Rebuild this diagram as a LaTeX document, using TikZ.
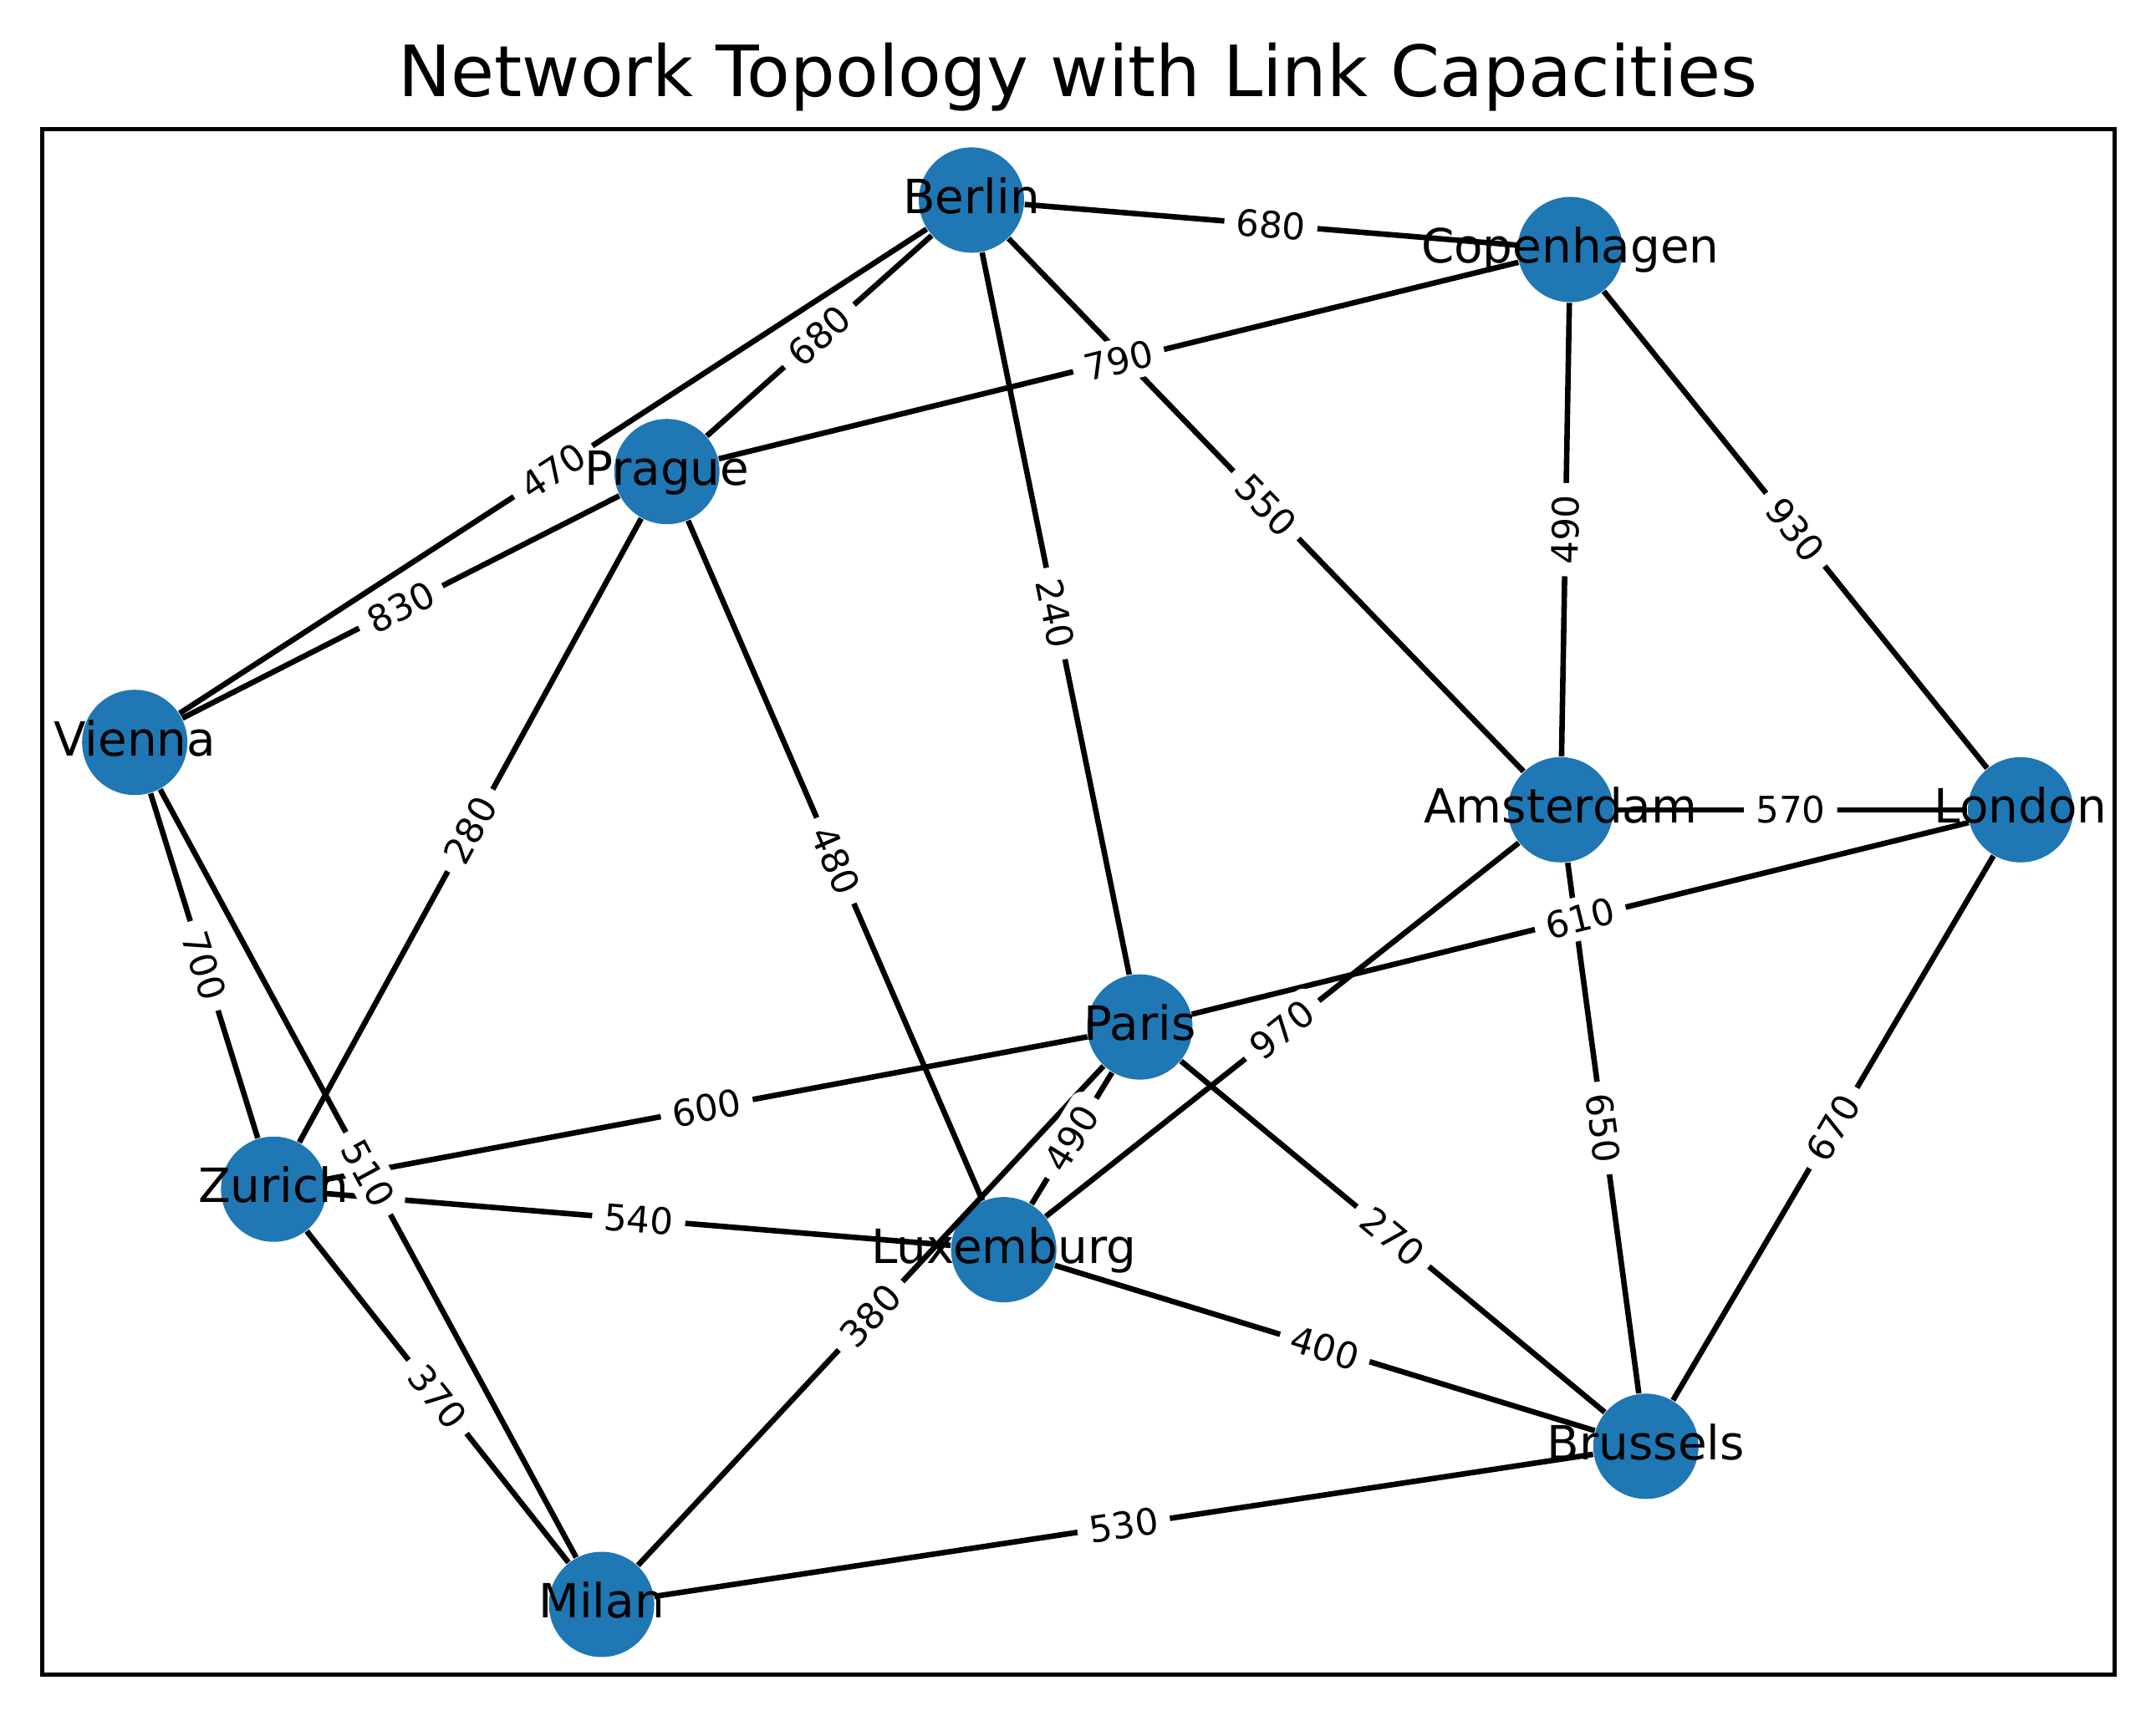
\documentclass[tikz,border=0pt]{standalone}
\usepackage{fontspec}
\setmainfont{DejaVu Sans}
\definecolor{nodeblue}{RGB}{31,119,180}

\tikzset{
  city/.style={circle,fill=nodeblue,inner sep=0pt,minimum size=26.8pt},
  cityname/.style={font=\fontsize{12}{14}\selectfont,anchor=base,yshift=-3.4pt},
  link/.style={line width=1.4pt},
  capacity/.style={midway,sloped,fill=white,rounded corners=3pt,inner xsep=3pt,inner ysep=2pt,font=\fontsize{9.3}{11}\selectfont},
}

\begin{document}
\begin{tikzpicture}[x=0.35pt,y=0.35pt]
\useasboundingbox (0,0) rectangle (1568,-1248);

% Title
\node (title) [anchor=base,font=\fontsize{18}{22}\selectfont] at (784,-70) {Network Topology with Link Capacities};
% Frame
\draw [line width=1pt] (30.5,-94) rectangle (1538,-1218);

%Nodes
\node (berlin)     [city] at (706.5,-145.5) {};
\node (copenhagen) [city] at (1142,-181.5) {};
\node (prague)     [city] at (485,-343) {};
\node (vienna)     [city] at (98,-540) {};
\node (amsterdam)  [city] at (1135,-589) {};
\node (london)     [city] at (1469.5,-589) {};
\node (paris)      [city] at (829,-747) {};
\node (zurich)     [city] at (199,-865) {};
\node (luxemburg)  [city] at (730,-909) {};
\node (brussels)   [city] at (1197,-1052) {};
\node (milan)      [city] at (437.5,-1167) {};

%Links
\foreach \a/\b in {berlin/copenhagen,berlin/prague,berlin/vienna,berlin/paris,berlin/amsterdam,
  copenhagen/prague,copenhagen/amsterdam,copenhagen/london,prague/vienna,prague/zurich,
  prague/luxemburg,vienna/zurich,vienna/milan,amsterdam/london,amsterdam/luxemburg,
  amsterdam/brussels,london/paris,london/brussels,paris/zurich,paris/luxemburg,paris/milan,
  paris/brussels,zurich/luxemburg,zurich/milan,luxemburg/brussels,milan/brussels}
  \draw [link] (\a) -- (\b);

%Link capacities
\foreach \a/\b/\c in {berlin/copenhagen/680,berlin/prague/680,berlin/vienna/470,berlin/paris/240,
  berlin/amsterdam/550,copenhagen/prague/790,copenhagen/amsterdam/490,copenhagen/london/930,
  prague/vienna/830,prague/zurich/280,prague/luxemburg/480,vienna/zurich/700,vienna/milan/510,
  amsterdam/london/570,amsterdam/luxemburg/970,amsterdam/brussels/650,london/paris/610,
  london/brussels/670,paris/zurich/600,paris/luxemburg/490,paris/milan/380,paris/brussels/270,
  zurich/luxemburg/540,zurich/milan/370,luxemburg/brussels/400,milan/brussels/530}
  \path (\a) -- node (\a-\b) [capacity] {\c} (\b);

% Text Node
\foreach \n/\t in {berlin/Berlin,copenhagen/Copenhagen,prague/Prague,vienna/Vienna,
  amsterdam/Amsterdam,london/London,paris/Paris,zurich/Zurich,luxemburg/Luxemburg,
  brussels/Brussels,milan/Milan}
  \node (\n-name) [cityname] at (\n.center) {\t};

\end{tikzpicture}
\end{document}
